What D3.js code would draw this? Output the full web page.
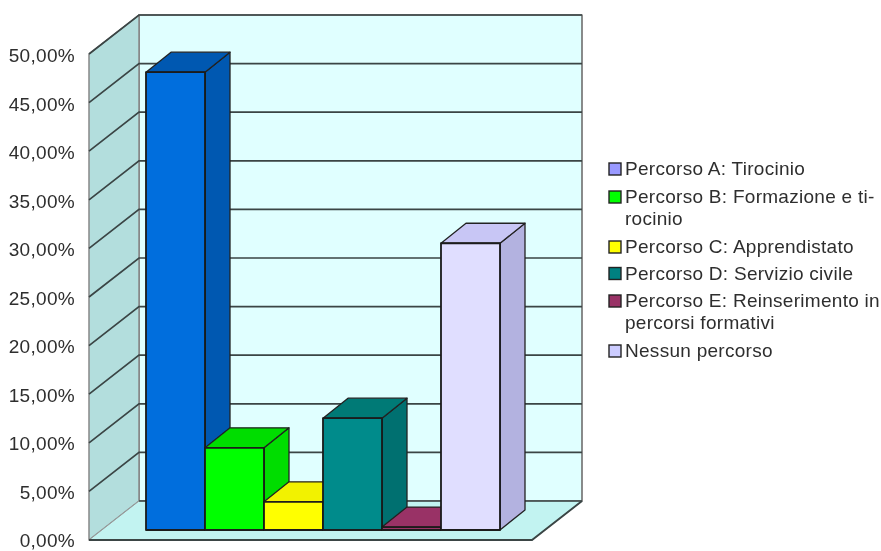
<!DOCTYPE html>
<html><head><meta charset="utf-8">
<script src="https://cdn.jsdelivr.net/npm/d3@7/dist/d3.min.js"></script>
<style>html,body{margin:0;padding:0;background:#fff}svg{display:block}text{font-family:"Liberation Sans",Arial,sans-serif;fill:#2e2e2e}</style>
</head><body><svg id="c" width="881" height="551"></svg>
<script>
const categories=["Percorso A: Tirocinio","Percorso B: Formazione e ti-rocinio","Percorso C: Apprendistato","Percorso D: Servizio civile","Percorso E: Reinserimento in percorsi formativi","Nessun percorso"];
const values=[47.1,8.45,2.9,11.5,0.3,29.5];
const tickValues=[0,5,10,15,20,25,30,35,40,45,50];
const legendLines=[["Percorso A: Tirocinio"],["Percorso B: Formazione e ti-","rocinio"],["Percorso C: Apprendistato"],["Percorso D: Servizio civile"],["Percorso E: Reinserimento in","percorsi formativi"],["Nessun percorso"]];
const legendSwatch=["#9999ff","#00ff00","#ffff00","#008080","#993366","#ccccff"];
const frontCol=["#006edd","#00ff00","#ffff00","#008b8b","#993366","#e0deff"];
const sideCol=["#0058b1","#00dd00","#e6e600","#006f6f","#7a2952","#b3b2e0"];
const topCol=["#0058b1","#00dd00","#f2f200","#007a76","#993366","#c8c6f5"];

const svg=d3.select("#c");
const defs=svg.append("defs");
const f=defs.append("filter").attr("id","soft");
f.append("feGaussianBlur").attr("stdDeviation",0.45);
const f2=defs.append("filter").attr("id","softText");
f2.append("feGaussianBlur").attr("stdDeviation",0.3);
const g=svg.append("g").attr("filter","url(#soft)");
const W=[89,532],DX=50,DY=-39;
const y=d3.scaleLinear().domain([0,50]).range([540,54]);
const yLabel=d3.scaleLinear().domain([0,50]).range([547,62]);
const x=d3.scaleBand().domain(d3.range(values.length)).range([146,500]);
const line=d3.line();
const poly=(pts,fill,stroke,sw)=>g.append("path").attr("d",line(pts)+"Z").attr("fill",fill).attr("stroke",stroke).attr("stroke-width",sw).attr("stroke-linejoin","round");
// walls
poly([[W[0]+DX,y(50)+DY],[W[1]+DX,y(50)+DY],[W[1]+DX,y(0)+DY],[W[0]+DX,y(0)+DY]],"#e0ffff","#777",1.7);
poly([[W[0],y(50)],[W[0]+DX,y(50)+DY],[W[0]+DX,y(0)+DY],[W[0],y(0)]],"#b3dedd","#888",1.5);
poly([[W[0],y(0)],[W[0]+DX,y(0)+DY],[W[1]+DX,y(0)+DY],[W[1],y(0)]],"#c2f3f1","#999",1);
// gridlines
g.selectAll("path.grid").data(tickValues.filter(d=>d>0)).join("path").attr("class","grid")
 .attr("d",d=>line([[W[0],y(d)],[W[0]+DX,y(d)+DY],[W[1]+DX,y(d)+DY]]))
 .attr("fill","none").attr("stroke","#3a4444").attr("stroke-width",1.7);
// floor edges
g.append("path").attr("d",line([[W[0],y(0)],[W[1],y(0)],[W[1]+DX,y(0)+DY]])).attr("fill","none").attr("stroke","#3a4444").attr("stroke-width",1.9);
g.append("path").attr("d",line([[W[0]+DX,y(0)+DY],[W[1]+DX,y(0)+DY]])).attr("fill","none").attr("stroke","#3a4444").attr("stroke-width",1.5);
// bars
const BX=25,BY=-20,B0=-10;
values.forEach((v,i)=>{
  const l=x(i),r=l+x.bandwidth(),t=y(v)+B0,b=y(0)+B0;
  poly([[r,t],[r+BX,t+BY],[r+BX,b+BY],[r,b]],sideCol[i],"#222",1.3);
  poly([[l,t],[l+BX,t+BY],[r+BX,t+BY],[r,t]],topCol[i],"#222",1.3);
});
values.forEach((v,i)=>{
  const l=x(i),r=l+x.bandwidth(),t=y(v)+B0,b=y(0)+B0;
  poly([[l,t],[r,t],[r,b],[l,b]],frontCol[i],"#1a1a1a",1.8);
});
// axis labels
const fmt=d=>d3.format(".2f")(d).replace(".",",")+"%";
const tg=svg.append("g").attr("filter","url(#softText)");
tg.selectAll("text.t").data(tickValues).join("text").attr("class","t")
 .attr("x",75).attr("y",d=>yLabel(d)).attr("text-anchor","end").attr("font-size",19).attr("style","letter-spacing:0.3px").text(fmt);
// legend
const ly=[169,197,247,273.5,301,351];
const lg=tg.selectAll("g.l").data(legendLines).join("g").attr("class","l").attr("transform",(d,i)=>`translate(0,${ly[i]})`);
lg.append("rect").attr("x",609).attr("y",-6).attr("width",12).attr("height",12).attr("fill",(d,i)=>legendSwatch[i]).attr("stroke","#222").attr("stroke-width",1.4);
lg.each(function(d){
  d3.select(this).selectAll("text").data(d).join("text").attr("x",625).attr("y",(s,j)=>6+j*22).attr("font-size",19).attr("style","letter-spacing:0.28px").text(s=>s);
});
</script></body></html>
